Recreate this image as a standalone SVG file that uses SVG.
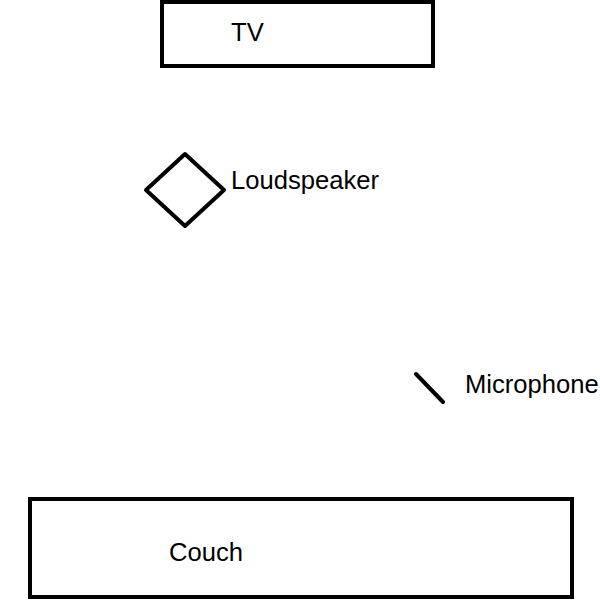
<svg xmlns="http://www.w3.org/2000/svg" width="600" height="600" viewBox="0 0 600 600">
<style>
.shape{fill:none;stroke:#000;stroke-width:4}
.lbl{font-family:"Liberation Sans",Arial,sans-serif;font-size:25.6px;fill:#000}
</style>
<rect width="600" height="600" fill="#fff"/>
<g id="tv"><rect class="shape" x="162" y="2" width="271" height="64"/><text class="lbl" x="231" y="41">TV</text></g>
<g id="loudspeaker"><polygon class="shape" points="185,154 224,190 185,226 146,190" stroke-linejoin="round" stroke-width="4.5"/><text class="lbl" x="231" y="189">Loudspeaker</text></g>
<g id="microphone"><line class="shape" x1="416" y1="374" x2="443" y2="402" stroke-linecap="round"/><text class="lbl" x="465" y="393">Microphone</text></g>
<g id="couch"><rect class="shape" x="30" y="499" width="542" height="98"/><text class="lbl" x="169" y="561">Couch</text></g>
<g id="connectors"/>
</svg>
